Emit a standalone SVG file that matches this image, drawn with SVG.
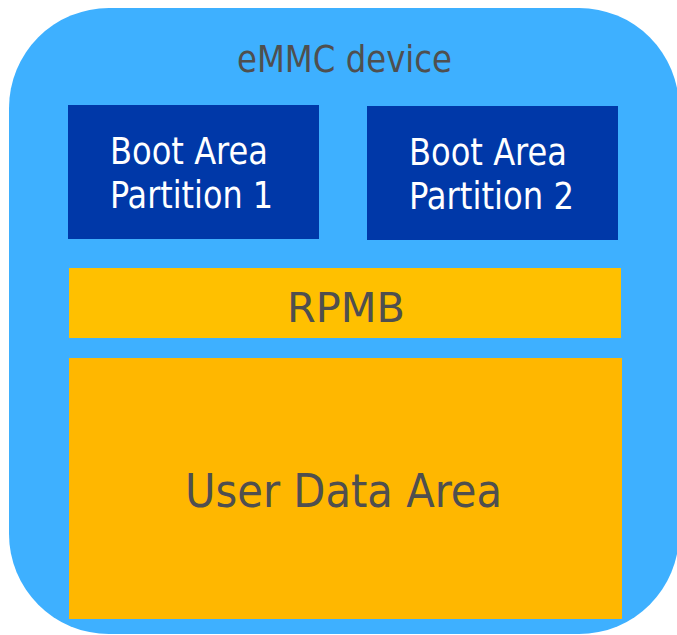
<svg xmlns="http://www.w3.org/2000/svg" width="677" height="635" viewBox="0 0 677 635">
<style>
.t{font-family:"DejaVu Sans Condensed","DejaVu Sans",sans-serif;}
.w{fill:#ffffff;font-size:37px;}
.g{fill:#4f4f4f;}
</style>
<rect x="0" y="0" width="677" height="635" fill="#ffffff"/>
<g id="device">
<rect x="9" y="8" width="670" height="626" rx="100" ry="100" fill="#3eb0ff"/>
<text class="t g" x="237" y="72" font-size="38" textLength="215" lengthAdjust="spacingAndGlyphs">eMMC device</text>
</g>
<g id="boot1">
<rect x="68" y="105" width="251" height="134" fill="#0038a8"/>
<text class="t w" x="110" y="164" textLength="158" lengthAdjust="spacingAndGlyphs">Boot Area</text>
<text class="t w" x="110" y="208" textLength="163" lengthAdjust="spacingAndGlyphs">Partition 1</text>
</g>
<g id="boot2">
<rect x="367" y="106" width="251" height="134" fill="#0038a8"/>
<text class="t w" x="409" y="165" textLength="158" lengthAdjust="spacingAndGlyphs">Boot Area</text>
<text class="t w" x="409" y="209" textLength="165" lengthAdjust="spacingAndGlyphs">Partition 2</text>
</g>
<g id="rpmb">
<rect x="69" y="268" width="552" height="70" fill="#ffc000"/>
<text class="t g" x="287" y="322" font-size="41" textLength="118" lengthAdjust="spacingAndGlyphs">RPMB</text>
</g>
<g id="userdata">
<rect x="69" y="358" width="553" height="261" fill="#ffb700"/>
<text class="t g" x="185" y="507" font-size="47" textLength="317" lengthAdjust="spacingAndGlyphs">User Data Area</text>
</g>
<g id="connectors"/>
</svg>
